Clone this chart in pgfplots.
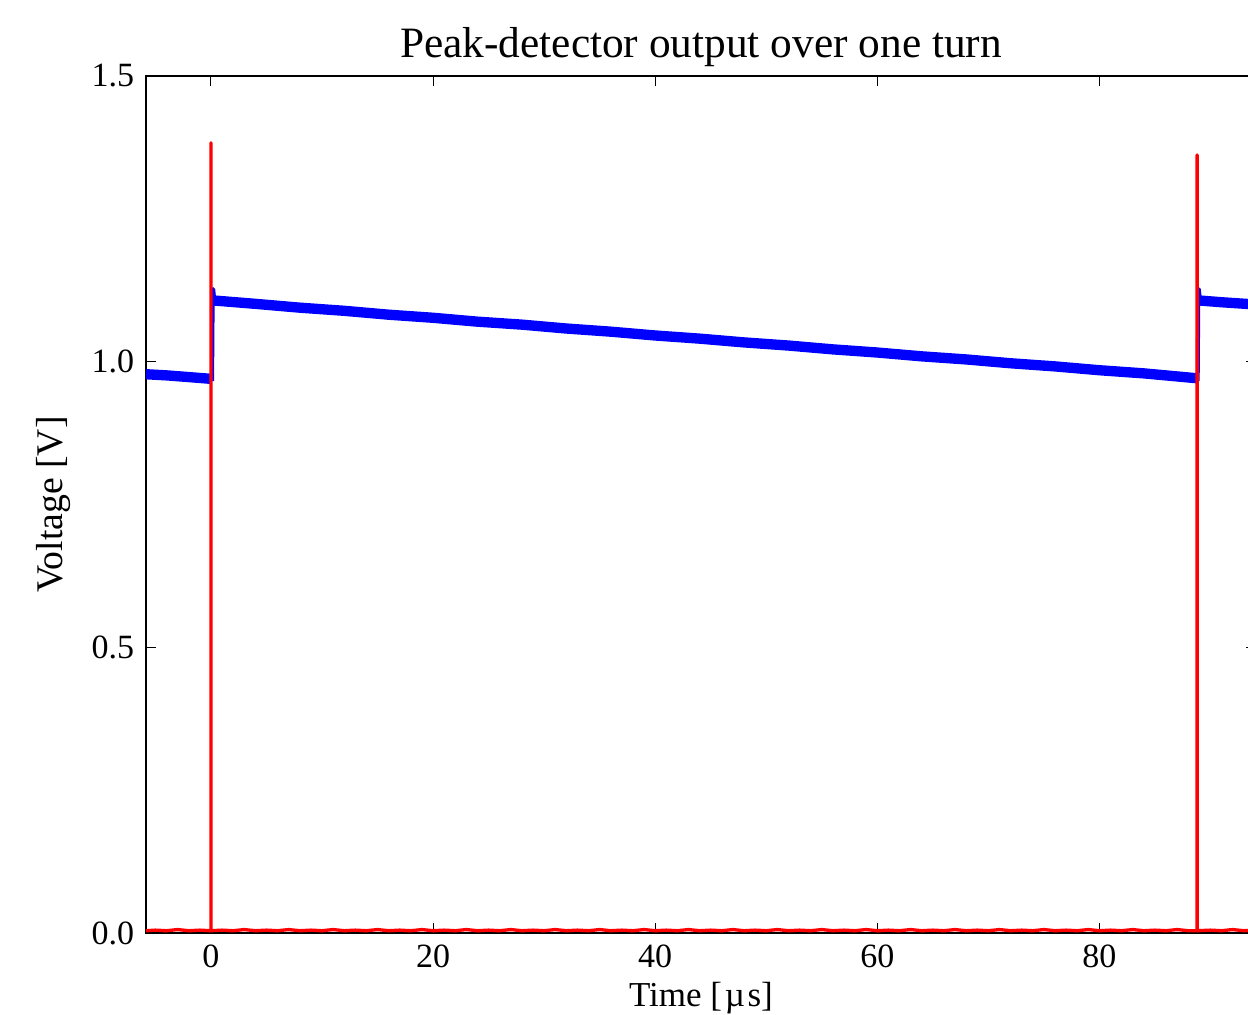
\documentclass[border=0pt]{standalone}
\usepackage{fontspec}
\setmainfont{Liberation Serif}
\usepackage{pgfplots}
\pgfplotsset{compat=1.18}
\begin{document}
\begin{tikzpicture}
\useasboundingbox (-43.8pt,-24.6pt) rectangle (330.6pt,279.9pt);
\clip (-43.8pt,-24.6pt) rectangle (330.6pt,279.9pt);
\begin{axis}[
  at={(0pt,0pt)}, anchor=south west,
  scale only axis, width=333pt, height=257.1pt,
  xmin=-5.85, xmax=94.1, ymin=0, ymax=1.5,
  xtick={0,20,40,60,80}, ytick={0,0.5,1.0,1.5},
  yticklabel style={/pgf/number format/.cd,fixed,fixed zerofill,precision=1},
  /pgf/number format/assume math mode=true,
  tick align=inside, major tick length=3pt,
  every tick/.style={black, line width=0.3pt},
  axis line style={line width=0.8pt},
  tick label style={font=\fontsize{10.2}{12}\selectfont},
  title style={font=\fontsize{13}{15}\selectfont, at={(axis description cs:0.5,1)}, anchor=base, yshift=-0.6pt},
  title={Peak-detector output over one turn},
  xlabel={Time [\kern0.8ptµ\kern0.8pts]},
  ylabel={Voltage [V]},
  xlabel style={font=\fontsize{10.5}{12}\selectfont, at={(axis description cs:0.5,0)}, anchor=base, yshift=-22.2pt},
  ylabel style={font=\fontsize{11.3}{13}\selectfont, at={(axis description cs:-0.0748,0.5)}, anchor=base},
  clip=true,
]
% blue: peak-detector output
\addplot[blue, line width=3.1pt, line join=round] coordinates {
(-5.85,0.978) (-4,0.976) (-2,0.973) (-0.05,0.970)
};
\addplot[blue, line width=1.2pt, line join=round] coordinates {
(0.1,0.966) (0.15,1.10) (0.2,1.127) (0.3,1.108) (0.6,1.106)
};
\addplot[blue, line width=3.1pt, line join=round] coordinates {
(0.3,1.107) (4,1.1012) (8,1.0945) (12,1.0890) (16,1.0822) (20,1.0768)
(24,1.0700) (28,1.0648) (32,1.0580) (36,1.0525) (40,1.0458) (44,1.0403)
(48,1.0337) (52,1.0282) (56,1.0215) (60,1.0160) (64,1.0093) (68,1.0039)
(72,0.9972) (76,0.9917) (80,0.9850) (84,0.9795) (88.75,0.971)
};
\addplot[blue, line width=1.2pt, line join=round] coordinates {
(88.85,0.966) (88.9,1.10) (88.95,1.127) (89.05,1.108) (89.35,1.106)
};
\addplot[blue, line width=3.1pt, line join=round] coordinates {
(89.05,1.107) (91,1.104) (94.1,1.100)
};
% red: trigger
\addplot[red, line width=1pt, line join=round] coordinates {
(-5.85,0.004) (-5,0.005) (-4,0.004) (-3,0.006) (-2,0.004) (-1,0.005)
(0,0.004) (0,1.383) (0,0.004)
(1,0.005) (2,0.004) (3,0.006) (4,0.004) (5,0.005) (6,0.004) (7,0.006) (8,0.004)
(9,0.005) (10,0.004) (11,0.006) (12,0.004) (13,0.005) (14,0.004) (15,0.006)
(16,0.004) (17,0.005) (18,0.004) (19,0.006) (20,0.004) (21,0.005) (22,0.004)
(23,0.006) (24,0.004) (25,0.005) (26,0.004) (27,0.006) (28,0.004) (29,0.005)
(30,0.004) (31,0.006) (32,0.004) (33,0.005) (34,0.004) (35,0.006) (36,0.004)
(37,0.005) (38,0.004) (39,0.006) (40,0.004) (41,0.005) (42,0.004) (43,0.006)
(44,0.004) (45,0.005) (46,0.004) (47,0.006) (48,0.004) (49,0.005) (50,0.004)
(51,0.006) (52,0.004) (53,0.005) (54,0.004) (55,0.006) (56,0.004) (57,0.005)
(58,0.004) (59,0.006) (60,0.004) (61,0.005) (62,0.004) (63,0.006) (64,0.004)
(65,0.005) (66,0.004) (67,0.006) (68,0.004) (69,0.005) (70,0.004) (71,0.006)
(72,0.004) (73,0.005) (74,0.004) (75,0.006) (76,0.004) (77,0.005) (78,0.004)
(79,0.006) (80,0.004) (81,0.005) (82,0.004) (83,0.006) (84,0.004) (85,0.005)
(86,0.004) (87,0.006) (88,0.004)
(88.8,0.004) (88.8,1.362) (88.8,0.004)
(90,0.005) (91,0.004) (92,0.006) (93,0.004) (94.1,0.005)
};
\end{axis}
\end{tikzpicture}
\end{document}
